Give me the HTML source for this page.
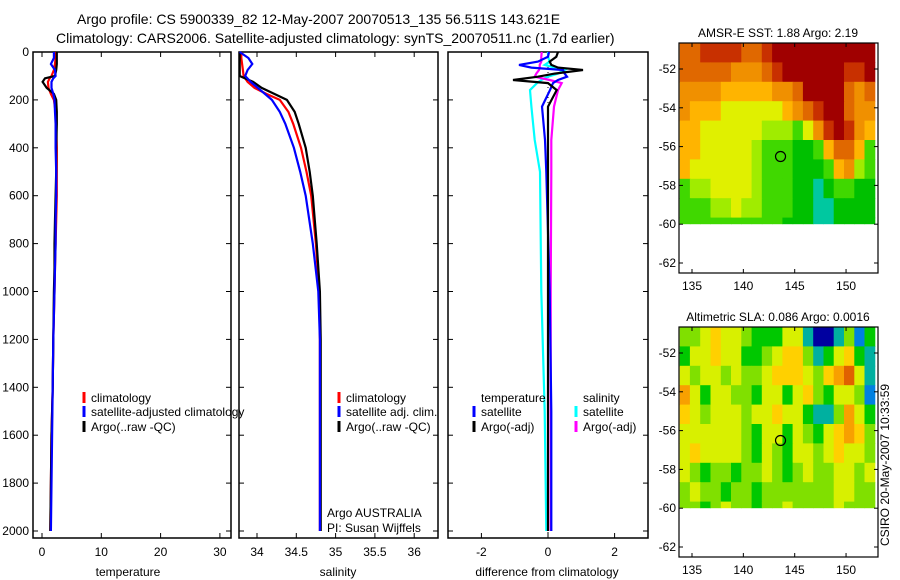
<!DOCTYPE html>
<html><head><meta charset="utf-8">
<style>
html,body{margin:0;padding:0;background:#fff;}
svg{display:block;font-family:"Liberation Sans",sans-serif;}
text{fill:#000;}
</style></head>
<body>
<svg id="fig" width="900" height="580" viewBox="0 0 900 580" xmlns="http://www.w3.org/2000/svg">
<text x="77" y="24" font-size="14">Argo profile: CS 5900339_82 12-May-2007 20070513_135 56.511S 143.621E</text>
<text x="56" y="43" font-size="14">Climatology: CARS2006. Satellite-adjusted climatology: synTS_20070511.nc (1.7d earlier)</text>
<g id="g"></g>
</svg>
<script>
// ---- data ----
const tDepth=[0,25,50,75,100,110,125,150,175,200,250,300,400,500,600,700,800,900,1000,1200,1400,1600,1800,2000];
const tempClim=[2.3,2.3,2.2,2.0,1.6,1.3,1.0,1.1,1.5,2.0,2.3,2.4,2.5,2.5,2.5,2.4,2.3,2.2,2.1,1.9,1.8,1.6,1.5,1.4];
const tempSat=[2.0,2.0,1.5,2.2,2.3,1.9,1.6,1.6,1.9,2.1,2.2,2.3,2.3,2.4,2.4,2.3,2.3,2.2,2.1,1.9,1.8,1.7,1.6,1.5];
const tempArgo=[2.5,2.5,2.5,2.4,2.2,0.5,0.1,0.8,2.0,2.4,2.5,2.5,2.4,2.4,2.3,2.2,2.1,2.1,2.0,1.9,1.8,1.6,1.5,1.4];
const sDepth=[0,25,50,75,100,125,150,175,200,250,300,400,500,600,800,1000,1200,1500,2000];
const salClim=[33.80,33.80,33.81,33.82,33.83,33.88,33.97,34.12,34.29,34.40,34.46,34.56,34.63,34.69,34.75,34.79,34.80,34.80,34.80];
const salSat=[33.78,33.89,33.94,33.88,33.85,33.92,34.01,34.10,34.19,34.29,34.36,34.47,34.55,34.62,34.71,34.78,34.80,34.80,34.80];
const salArgo=[33.78,33.78,33.78,33.78,33.78,33.95,34.06,34.22,34.38,34.48,34.53,34.62,34.67,34.71,34.76,34.80,34.81,34.81,34.81];
const dDepth=[0,20,40,54,65,75,90,103,117,130,159,228,367,500,1000,1500,2000];
const dTempSat=[0.03,0.0,-0.3,-0.87,-0.5,0.45,0.5,0.57,0.3,0.15,0.06,-0.18,-0.09,-0.05,0.05,0.1,0.1];
const dSalSat=[0,0,0.05,-0.1,0.2,0.5,0.3,0,-0.2,-0.33,-0.54,-0.5,-0.4,-0.24,-0.2,-0.1,-0.05];
const dTempArgo=[0.3,0.25,0.05,0.1,0.3,1.05,0.2,-0.3,-1.05,0,0.26,0,0,0,0,0,0];
const dSalArgo=[-0.19,-0.2,-0.2,-0.25,-0.25,-0.27,-0.35,-0.4,0.05,0.41,0.3,0.18,0.1,0.1,0.08,0.08,0.08];
const depthTicks=[0,200,400,600,800,1000,1200,1400,1600,1800,2000];
const tempTicks=[0,10,20,30];
const salTicks=[34,34.5,35,35.5,36];
const salTickLabels=["34","34.5","35","35.5","36"];
const diffTicks=[-2,0,2];
const lonTicks=[135,140,145,150];
const latTicks=[-52,-54,-56,-58,-60,-62];
const sstGrid=[
[8,8,9,9,9,9,8,8,9,10,10,10,10,10,10,10,10,10,10],
[8,8,8,8,8,7,7,7,8,9,10,10,10,10,10,10,9,9,10],
[7,7,7,7,6,6,6,6,6,7,7,8,10,10,10,10,8,7,8],
[7,6,6,6,5,5,5,5,5,5,6,7,8,9,10,10,8,7,7],
[6,6,5,5,5,5,5,5,4,4,4,3,5,7,9,10,9,7,6],
[6,6,5,5,5,5,5,4,3,3,3,2,2,3,6,8,8,6,3],
[6,5,5,5,5,5,5,4,3,3,3,2,2,2,3,6,7,4,3],
[3,4,4,5,5,5,5,4,3,3,3,2,2,1,2,3,3,2,2],
[3,3,3,4,4,5,4,4,3,3,3,2,2,1,1,2,2,2,2],
[3,3,3,3,3,3,3,3,3,3,2,2,2,1,1,2,2,2,2]];
const slaGrid=[
[4,4,5,6,5,5,4,3,3,3,5,5,2,0,0,2,4,1,3],
[3,5,5,6,5,5,3,3,4,5,6,6,4,2,3,5,6,3,2],
[5,4,5,5,4,5,4,4,5,6,6,6,5,4,6,7,8,5,2],
[7,5,3,5,5,4,4,3,5,5,3,5,6,4,3,5,5,4,1],
[6,5,4,5,5,5,4,5,5,6,5,5,3,2,2,4,7,5,3],
[5,5,5,5,5,5,4,3,5,5,3,5,4,3,5,6,7,6,4],
[5,6,5,5,5,5,4,3,5,4,3,5,5,4,5,6,5,5,4],
[5,4,3,4,4,3,4,4,5,4,3,4,5,4,4,5,5,4,5],
[4,5,4,4,3,4,4,3,4,4,4,4,4,4,4,5,5,4,4],
[4,4,3,4,5,4,4,3,4,4,5,4,4,4,4,5,4,4,4]];
const argoLon=143.62, argoLat=-56.51;

const sstColors=["#00e8f0","#00c8a0","#00c000","#40d800","#a0ec00","#e0f000","#ffb400","#f09000","#e06800","#c83000","#a00000"];
const slaColors=["#0000a0","#0080e0","#00b0a0","#00c800","#80e000","#d8f000","#ffd000","#f8a000","#e06000","#b02000"];

const NS="http://www.w3.org/2000/svg";
const G=document.getElementById('g');
function mk(tag,attrs,parent){const e=document.createElementNS(NS,tag);for(const k in attrs)e.setAttribute(k,attrs[k]);(parent||G).appendChild(e);return e;}
function txt(x,y,s,size,anchor,parent){const t=mk('text',{x:x,y:y,'font-size':size||12,'text-anchor':anchor||'start'},parent);t.textContent=s;return t;}

const Y0=52,PY=0.2395;
const yD=d=>Y0+d*PY;
const panels=[
 {x0:33,x1:231,xs:v=>42+v*5.93,ticks:tempTicks,labels:tempTicks.map(String),name:'temperature-panel',xlab:'temperature',xc:128},
 {x0:239,x1:438,xs:v=>257+(v-34)*78.6,ticks:salTicks,labels:salTickLabels,name:'salinity-panel',xlab:'salinity',xc:338},
 {x0:448,x1:648,xs:v=>548+v*33.3,ticks:diffTicks,labels:diffTicks.map(String),name:'difference-panel',xlab:'difference from climatology',xc:547}
];
panels.forEach((p,i)=>{
 const g=mk('g',{});
 
 
 mk('rect',{x:p.x0,y:52,width:p.x1-p.x0,height:486,fill:'none',stroke:'#000','stroke-width':1.5},g);
 depthTicks.forEach(d=>{
  mk('line',{x1:p.x0,x2:p.x0+5,y1:yD(d),y2:yD(d),stroke:'#000'},g);
  mk('line',{x1:p.x1-5,x2:p.x1,y1:yD(d),y2:yD(d),stroke:'#000'},g);
  if(i===0){const t=txt(p.x0-4,yD(d)+4,String(d),12,'end',g);}
 });
 p.ticks.forEach((v,k)=>{
  const x=p.xs(v);
  mk('line',{x1:x,x2:x,y1:52,y2:57,stroke:'#000'},g);
  mk('line',{x1:x,x2:x,y1:533,y2:538,stroke:'#000'},g);
  const t=txt(x,556,p.labels[k],12,'middle',g);
  
  
 });
 const xl=txt(p.xc,576,p.xlab,12,'middle',g);
 
 
});
function line(depths,vals,xs,color,name,w){
 const pts=depths.map((d,k)=>xs(vals[k]).toFixed(1)+','+yD(d).toFixed(1)).join(' ');
 const l=mk('polyline',{points:pts,fill:'none',stroke:color,'stroke-width':w||2.2});
 
 
}
const P=panels;
line(tDepth,tempClim,P[0].xs,'#f00','temp-climatology-line');
line(tDepth,tempArgo,P[0].xs,'#000','temp-argo-line');
line(tDepth,tempSat,P[0].xs,'#00f','temp-satellite-line');
line(sDepth,salClim,P[1].xs,'#f00','sal-climatology-line');
line(sDepth,salArgo,P[1].xs,'#000','sal-argo-line');
line(sDepth,salSat,P[1].xs,'#00f','sal-satellite-line');
mk('line',{x1:P[2].xs(0),x2:P[2].xs(0),y1:52,y2:538,stroke:'#000','stroke-dasharray':'1,4'});
line(dDepth,dSalSat,P[2].xs,'#0ff','diff-sal-satellite-line');
line(dDepth,dSalArgo,P[2].xs,'#f0f','diff-sal-argo-line');
line(dDepth,dTempSat,P[2].xs,'#00f','diff-temp-satellite-line');
line(dDepth,dTempArgo,P[2].xs,'#000','diff-temp-argo-line');

function legend(x,y,color,label,name){
 const g=mk('g',{});
 
 
 mk('line',{x1:x,x2:x,y1:y-10,y2:y+1,stroke:color,'stroke-width':3},g);
 txt(x+7,y,label,12,'start',g);
}
legend(84,402,'#f00','climatology','legend-climatology');
legend(84,416,'#00f','satellite-adjusted climatology','legend-satellite-adjusted');
legend(84,431,'#000','Argo(..raw -QC)','legend-argo');
legend(339,402,'#f00','climatology','legend-sal-climatology');
legend(339,416,'#00f','satellite adj. clim.','legend-sal-satellite');
legend(339,431,'#000','Argo(..raw -QC)','legend-sal-argo');
txt(481,402,'temperature',12);
txt(583,402,'salinity',12);
legend(474,416,'#00f','satellite','legend-diff-temp-satellite');
legend(474,431,'#000','Argo(-adj)','legend-diff-temp-argo');
legend(576,416,'#0ff','satellite','legend-diff-sal-satellite');
legend(576,431,'#f0f','Argo(-adj)','legend-diff-sal-argo');
txt(327,517,'Argo AUSTRALIA',12);
txt(327,532,'PI: Susan Wijffels',12);

// ---- maps ----
function map(top,bottom,grid,colors,title,name){
 const x0=679,x1=878;
 const lonX=l=>692+(l-135)*10.27;
 const Ym52=top+26, ypd=19.4;
 const ly=l=>Ym52+(-52-l)*ypd;
 const g=mk('g',{});
 
 
 const t=txt(778,top-6,title,12,'middle',g);
 
 const latTop=-52+(Ym52-top)/ypd;
 grid.forEach((row,r)=>{
  row.forEach((v,c)=>{
   const lonL=133.8+c, latHi=latTop-r;
   const yTop=ly(latHi), yBot=Math.min(ly(latHi-1),ly(-60));
   if(yBot<=yTop) return;
   const cell=mk('rect',{x:lonX(lonL).toFixed(1),y:yTop.toFixed(1),width:10.8,height:(yBot-yTop+(yBot<ly(-60)?0.6:0)).toFixed(1),fill:colors[v]},g);
   
   
  });
 });
 mk('rect',{x:x0,y:top,width:x1-x0,height:bottom-top,fill:'none',stroke:'#000','stroke-width':1.2},g);
 lonTicks.forEach(l=>{
  const x=lonX(l);
  mk('line',{x1:x,x2:x,y1:top,y2:top+4,stroke:'#000'},g);
  mk('line',{x1:x,x2:x,y1:bottom-4,y2:bottom,stroke:'#000'},g);
  txt(x,bottom+17,String(l),12,'middle',g);
 });
 latTicks.forEach(l=>{
  const y=ly(l);
  mk('line',{x1:x0,x2:x0+4,y1:y,y2:y,stroke:'#000'},g);
  mk('line',{x1:x1-4,x2:x1,y1:y,y2:y,stroke:'#000'},g);
  txt(x0-3,y+4,String(l),12,'end',g);
 });
 const m=mk('circle',{cx:lonX(argoLon),cy:ly(argoLat),r:5,fill:'none',stroke:'#000','stroke-width':1.2},g);
 
 
}
map(43,273,sstGrid,sstColors,'AMSR-E SST: 1.88 Argo: 2.19','sst-map');
map(327,557,slaGrid,slaColors,'Altimetric SLA: 0.086 Argo: 0.0016','sla-map');
const ts=txt(0,0,'CSIRO 20-May-2007 10:33:59',12,'start');
ts.setAttribute('transform','translate(889,546) rotate(-90)');


</script>
</body></html>
